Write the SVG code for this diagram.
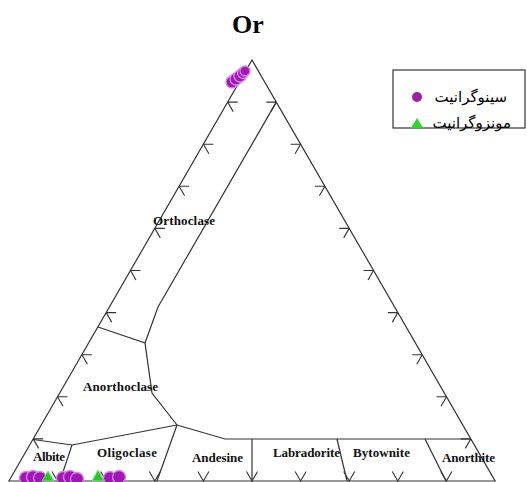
<svg xmlns="http://www.w3.org/2000/svg" width="527" height="482" viewBox="0 0 527 482">
<defs>
<style>
.ln{fill:none;stroke:#333;stroke-width:1.2;stroke-linejoin:miter}
.tk{fill:none;stroke:#333;stroke-width:1.1}
.lbl{font-family:"Liberation Serif","Times New Roman",serif;font-weight:bold;font-size:13px;fill:#111}
.pt{fill:#a215b8;stroke:#d58be0;stroke-width:1.3}
.tri{fill:#22c922;stroke:#7be07b;stroke-width:1}
.leg{font-family:"DejaVu Sans","Noto Sans",sans-serif;font-size:15px;fill:#000}
</style>
</defs>
<rect width="527" height="482" fill="#fff"/>
<text x="248" y="33" text-anchor="middle" font-family="Liberation Serif, Times New Roman, serif" font-weight="bold" font-size="26" fill="#000">Or</text>
<g id="triangle">
<path class="ln" d="M8.9,481 L252,60 L495.1,481 Z"/>
</g>
<g id="ticks">
<path class="tk" d="M227.7,102.1h10M227.7,102.1l5.5,9.5M203.4,144.2h10M203.4,144.2l5.5,9.5M179.1,186.3h10M179.1,186.3l5.5,9.5M154.8,228.4h10M154.8,228.4l5.5,9.5M130.5,270.5h10M130.5,270.5l5.5,9.5M106.2,312.6h10M106.2,312.6l5.5,9.5M81.9,354.7h10M81.9,354.7l5.5,9.5M57.5,396.8h10M57.5,396.8l5.5,9.5M33.2,438.9h10M33.2,438.9l5.5,9.5"/>
<path class="tk" d="M276.3,102.1h-10M276.3,102.1l-5.5,9.5M300.6,144.2h-10M300.6,144.2l-5.5,9.5M324.9,186.3h-10M324.9,186.3l-5.5,9.5M349.2,228.4h-10M349.2,228.4l-5.5,9.5M373.5,270.5h-10M373.5,270.5l-5.5,9.5M397.8,312.6h-10M397.8,312.6l-5.5,9.5M422.2,354.7h-10M422.2,354.7l-5.5,9.5M446.5,396.8h-10M446.5,396.8l-5.5,9.5M470.8,438.9h-10M470.8,438.9l-5.5,9.5"/>
<path class="tk" d="M52,471.5L57.5,481L63,471.5M100.7,471.5L106.2,481L111.7,471.5M149.3,471.5L154.8,481L160.3,471.5M197.9,471.5L203.4,481L208.9,471.5M246.5,471.5L252,481L257.5,471.5M295.1,471.5L300.6,481L306.1,471.5M343.7,471.5L349.2,481L354.7,471.5M392.3,471.5L397.8,481L403.3,471.5M440.9,471.5L446.4,481L451.9,471.5"/>
</g>
<g id="fields">
<path class="ln" d="M276.3,102.1L158,307L145,343"/>
<path class="ln" d="M98,327L145,343L152,393L177,425"/>
<path class="ln" d="M177,425L225,439L470.8,439"/>
<path class="ln" d="M33.2,439.5L72,445L177,425"/>
<path class="ln" d="M72,445L60,481"/>
<path class="ln" d="M177,425L157,481"/>
<path class="ln" d="M252,439V481"/>
<path class="ln" d="M337,439L347,481"/>
<path class="ln" d="M425,439L446,481"/>
</g>
<g id="labels">
<text class="lbl" x="153" y="225" textLength="62">Orthoclase</text>
<text class="lbl" x="83" y="391" textLength="75">Anorthoclase</text>
<text class="lbl" x="33" y="461" textLength="32">Albite</text>
<text class="lbl" x="97" y="457" textLength="60">Oligoclase</text>
<text class="lbl" x="192" y="462" textLength="51">Andesine</text>
<text class="lbl" x="273" y="457" textLength="67">Labradorite</text>
<text class="lbl" x="353" y="457" textLength="57">Bytownite</text>
<text class="lbl" x="442" y="462" textLength="53">Anorthite</text>
</g>
<g id="data">
<circle class="pt" cx="232" cy="82" r="6"/>
<circle class="pt" cx="236" cy="79" r="6"/>
<circle class="pt" cx="240" cy="76" r="6"/>
<circle class="pt" cx="243" cy="73" r="5.5"/>
<circle class="pt" cx="245" cy="71" r="5"/>
<circle class="pt" cx="26" cy="478" r="6.5"/>
<circle class="pt" cx="33" cy="477" r="6.5"/>
<circle class="pt" cx="40" cy="478" r="6.5"/>
<polygon class="tri" points="48,471 54,481 42,481"/>
<circle class="pt" cx="63" cy="478" r="6.5"/>
<circle class="pt" cx="70" cy="477" r="6.5"/>
<circle class="pt" cx="77" cy="479" r="6.5"/>
<polygon class="tri" points="98,470 104,481 92,481"/>
<circle class="pt" cx="110" cy="478" r="6.5"/>
<circle class="pt" cx="119" cy="477" r="6.5"/>
</g>
<g id="legend">
<rect x="393" y="70" width="132" height="58" fill="#fff" stroke="#333" stroke-width="1.2"/>
<circle cx="417" cy="97" r="5" fill="#9b1fa8"/>
<text class="leg" x="507" y="102" text-anchor="end">سینوگرانیت</text>
<polygon points="417,118 423,128 411,128" fill="#22dd22"/>
<text class="leg" x="511" y="128" text-anchor="end">مونزوگرانیت</text>
</g>
</svg>
